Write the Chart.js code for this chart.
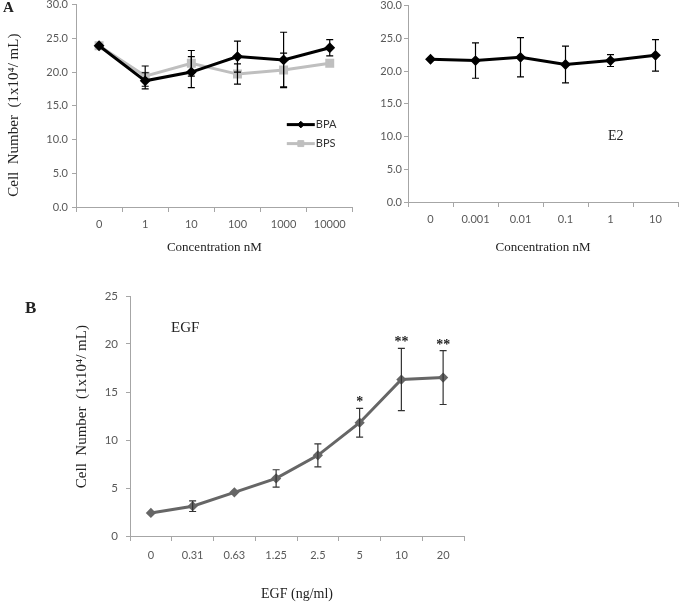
<!DOCTYPE html>
<html><head><meta charset="utf-8">
<script src="https://cdn.jsdelivr.net/npm/chart.js@4/dist/chart.umd.min.js"></script>
<style>
html,body{margin:0;padding:0;background:#fff;width:685px;height:603px;overflow:hidden;position:relative;}
.c{position:absolute;}
.t{position:absolute;font-family:"Liberation Serif",serif;color:#222;white-space:nowrap;line-height:1;}
</style></head><body>
<div class="c" style="left:0;top:-6px;"><canvas id="a1" width="360" height="264"></canvas></div>
<div class="c" style="left:340px;top:-3px;"><canvas id="a2" width="345" height="261"></canvas></div>
<div class="c" style="left:0;top:260px;"><canvas id="b" width="480" height="343"></canvas></div>
<div class="t" style="left:3px;top:0px;font-size:15px;font-weight:bold;">A</div>
<div class="t" style="left:25px;top:299px;font-size:17px;font-weight:bold;">B</div>
<div class="t" style="left:608px;top:129px;font-size:14px;">E2</div>
<div class="t" style="left:171px;top:320px;font-size:15px;">EGF</div>
<script>
// ---- data ----
const concA = ['0','1','10','100','1000','10000'];
const bpa = [23.9,18.7,20.0,22.3,21.8,23.6];
const bpaErr = [0.3,1.2,2.3,2.3,4.1,1.2];
const bps = [23.9,19.4,21.3,19.7,20.3,21.3];
const bpsErr = [0.3,1.5,1.9,1.5,2.5,0.3];
const concE2 = ['0','0.001','0.01','0.1','1','10'];
const e2 = [21.8,21.6,22.1,21.0,21.6,22.4];
const e2Err = [0.2,2.7,3.0,2.8,0.9,2.4];
const egfDose = ['0','0.31','0.63','1.25','2.5','5','10','20'];
const egf = [2.4,3.1,4.55,6.0,8.4,11.8,16.3,16.5];
const egfErr = [0.2,0.55,0.35,0.9,1.2,1.5,3.25,2.8];
const egfSig = ['','','','','','*','**','**'];
const yTitle = 'Cell  Number  (1x10\u2074/ mL)';
const PAD = '\u00a0\u00a0\u00a0\u00a0\u00a0';

const AX = '#a6a6a6', TK = '#595959', SANS = 'Lato', SERIF = '"Liberation Serif", serif';

const errorBars = {
  id: 'errorBars',
  afterDatasetsDraw(chart) {
    const ctx = chart.ctx, y = chart.scales.y;
    chart.data.datasets.forEach((ds, i) => {
      if (!ds.errors) return;
      const meta = chart.getDatasetMeta(i);
      ctx.save();
      ctx.strokeStyle = ds.errorColor || '#000';
      ctx.lineWidth = 1.2;
      meta.data.forEach((pt, j) => {
        const e = ds.errors[j], v = ds.data[j];
        const yt = y.getPixelForValue(v + e), yb = y.getPixelForValue(v - e), x = pt.x;
        if (e > 0.4) {
          ctx.beginPath();
          ctx.moveTo(x, yt); ctx.lineTo(x, yb);
          ctx.moveTo(x - 3.5, yt); ctx.lineTo(x + 3.5, yt);
          ctx.moveTo(x - 3.5, yb); ctx.lineTo(x + 3.5, yb);
          ctx.stroke();
        }
        if (ds.sig && ds.sig[j]) {
          ctx.fillStyle = '#222';
          ctx.font = 'bold 14px ' + SERIF;
          ctx.textAlign = 'center';
          ctx.textBaseline = 'alphabetic';
          ctx.fillText(ds.sig[j], x, yt - 2);
        }
      });
      ctx.restore();
    });
  }
};

const legendA = {
  id: 'legendA',
  afterDraw(chart) {
    const ctx = chart.ctx, ca = chart.chartArea;
    const x0 = ca.right - 66, x1 = ca.right - 38;
    chart.data.datasets.forEach((ds, i) => {
      const yy = ca.top + 120 + i * 19;
      ctx.save();
      ctx.strokeStyle = ds.borderColor; ctx.fillStyle = ds.borderColor; ctx.lineWidth = 3;
      ctx.beginPath(); ctx.moveTo(x0, yy); ctx.lineTo(x1, yy); ctx.stroke();
      ctx.lineWidth = 1;
      Chart.helpers.drawPoint(ctx, {pointStyle: ds.pointStyle, radius: ds.pointRadius, rotation: 0, borderWidth: 1}, (x0 + x1) / 2, yy);
      ctx.fillStyle = '#333'; ctx.font = '11px ' + SANS;
      ctx.textBaseline = 'middle'; ctx.textAlign = 'left';
      ctx.fillText(ds.label, x1 + 1, yy);
      ctx.restore();
    });
  }
};

function scales(o) {
  return {
    x: {
      type: 'category', offset: true,
      grid: {offset: true, drawOnChartArea: false, drawTicks: true, tickLength: 5, color: AX},
      border: {color: AX, width: 1},
      ticks: {color: TK, font: {family: SANS, size: 11}, padding: o.xpad, maxRotation: 0, autoSkip: false},
      title: {display: true, text: o.xtitle, color: '#222', font: {family: SERIF, size: o.xts}, padding: {top: 0, bottom: o.xtpad}},
      afterFit(s) { s.height = o.xh; }
    },
    y: {
      min: 0, max: o.max,
      grid: {drawOnChartArea: false, drawTicks: true, tickLength: 4, color: AX},
      border: {color: AX, width: 1},
      ticks: {stepSize: 5, color: TK, font: {family: SANS, size: o.yfs || 11}, padding: o.ypad,
              callback: v => o.dec ? Number(v).toFixed(1) : String(v)},
      title: {display: !!o.ytitle, text: o.ytitle, color: '#222', font: {family: SERIF, size: 15}, padding: {top: o.ytpad, bottom: 0}},
      afterFit(s) { s.width = o.yw; }
    }
  };
}

function common(extra) {
  return Object.assign({
    responsive: false, animation: false, devicePixelRatio: 1,
    plugins: {legend: {display: false}, tooltip: {enabled: false}},
  }, extra);
}

// --- A1: BPA / BPS ---
new Chart(document.getElementById('a1'), {
  type: 'line',
  data: {
    labels: concA,
    datasets: [
      {label: 'BPA', data: bpa, errors: bpaErr, borderColor: '#000', backgroundColor: '#000', borderWidth: 3,
       pointStyle: 'rectRot', pointRadius: 3.3, pointBackgroundColor: '#000', pointBorderColor: '#000', tension: 0},
      {label: 'BPS', data: bps, errors: bpsErr, borderColor: '#bfbfbf', backgroundColor: '#bfbfbf', borderWidth: 3,
       pointStyle: 'rect', pointRadius: 4.2, pointBackgroundColor: '#bfbfbf', pointBorderColor: '#bfbfbf', tension: 0}
    ]
  },
  options: common({
    layout: {padding: {top: 0, right: 7, left: 0, bottom: 0}},
    scales: scales({max: 30, dec: true, xtitle: 'Concentration nM', xts: 13, xtpad: 3, xh: 51, xpad: 6,
                     ytitle: yTitle + PAD, ytpad: 5, yw: 76, ypad: 4})
  }),
  plugins: [errorBars, legendA]
});

// --- A2: E2 ---
new Chart(document.getElementById('a2'), {
  type: 'line',
  data: {
    labels: concE2,
    datasets: [
      {label: 'E2', data: e2, errors: e2Err, borderColor: '#000', borderWidth: 3,
       pointStyle: 'rectRot', pointRadius: 3.3, pointBackgroundColor: '#000', pointBorderColor: '#000', tension: 0}
    ]
  },
  options: common({
    layout: {padding: {top: 0, right: 2, left: 0, bottom: 0}},
    scales: scales({max: 30, dec: true, xtitle: 'Concentration nM', xts: 13, xtpad: 3, xh: 56, xpad: 6,
                     ytitle: '', ytpad: 0, yw: 68, ypad: 2})
  }),
  plugins: [errorBars]
});

// --- B: EGF ---
new Chart(document.getElementById('b'), {
  type: 'line',
  data: {
    labels: egfDose,
    datasets: [
      {label: 'EGF', data: egf, errors: egfErr, sig: egfSig, errorColor: '#333', borderColor: '#666', borderWidth: 3,
       pointStyle: 'rectRot', pointRadius: 3, pointBackgroundColor: '#666', pointBorderColor: '#666', tension: 0}
    ]
  },
  options: common({
    layout: {padding: {top: 36, right: 16, left: 0, bottom: 0}},
    scales: scales({max: 25, dec: false, xtitle: 'EGF (ng/ml)', xts: 14, xtpad: 0, xh: 67, xpad: 7.5,
                     ytitle: PAD + yTitle, ytpad: 73, yw: 130, ypad: 8, yfs: 11.5})
  }),
  plugins: [errorBars]
});
</script>
</body></html>
